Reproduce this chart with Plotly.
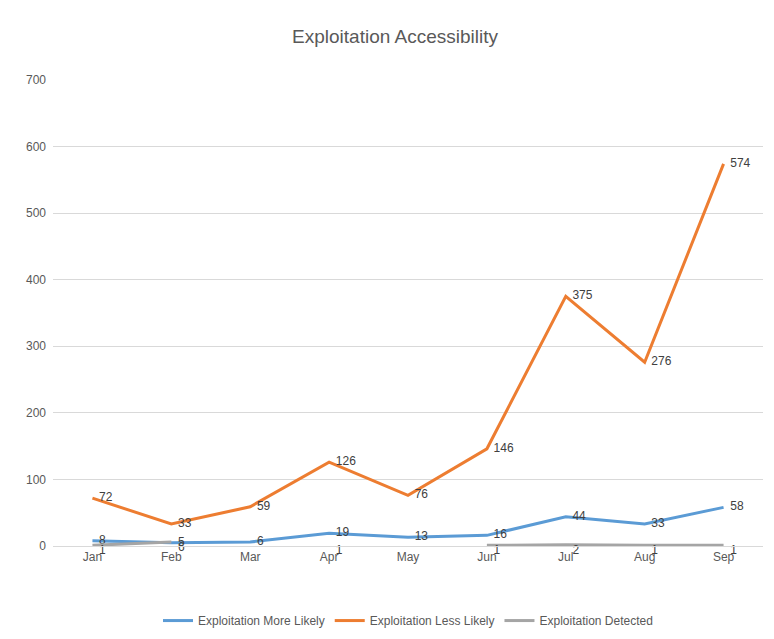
import plotly.graph_objects as go

months = ["Jan","Feb","Mar","Apr","May","Jun","Jul","Aug","Sep"]
more_likely = [8,5,6,19,13,16,44,33,58]
less_likely = [72,33,59,126,76,146,375,276,574]
detected = [1,6,None,1,None,1,2,1,1]

fig = go.Figure()
for name, vals, col, pos in [("Exploitation More Likely", more_likely, "#5B9BD5", "middle right"),
                        ("Exploitation Less Likely", less_likely, "#ED7D31", "middle right"),
                        ("Exploitation Detected", detected, "#A5A5A5", "bottom right")]:
    fig.add_trace(go.Scatter(x=months, y=vals, name=name, mode="lines+text",
                             line=dict(color=col, width=3),
                             text=[("" if v is None else "  " + str(v)) for v in vals],
                             textposition=pos,
                             textfont=dict(color="#404040", size=12),
                             connectgaps=False, cliponaxis=False))

fig.update_layout(
    width=774, height=639, plot_bgcolor="white", paper_bgcolor="white",
    font=dict(family="Liberation Sans, Arial", color="#595959"),
    title=dict(text="Exploitation Accessibility", x=0.5, y=0.955, yanchor="middle", xanchor="center",
               font=dict(size=19, color="#595959")),
    margin=dict(l=45, r=19, t=72, b=99, pad=0),
    xaxis=dict(showgrid=False, showline=True, linecolor="#D9D9D9", ticks="",
               range=[-0.5, 8.5], tickfont=dict(size=12, color="#595959")),
    yaxis=dict(range=[0,700], dtick=100, gridcolor="#D9D9D9", zeroline=False,
               tickfont=dict(size=12, color="#595959"), ticklabelstandoff=6),
    legend=dict(orientation="h", x=0.5, xanchor="center", y=-0.16, yanchor="middle",
                font=dict(size=12, color="#595959")),
)
fig.write_html("out.html")
